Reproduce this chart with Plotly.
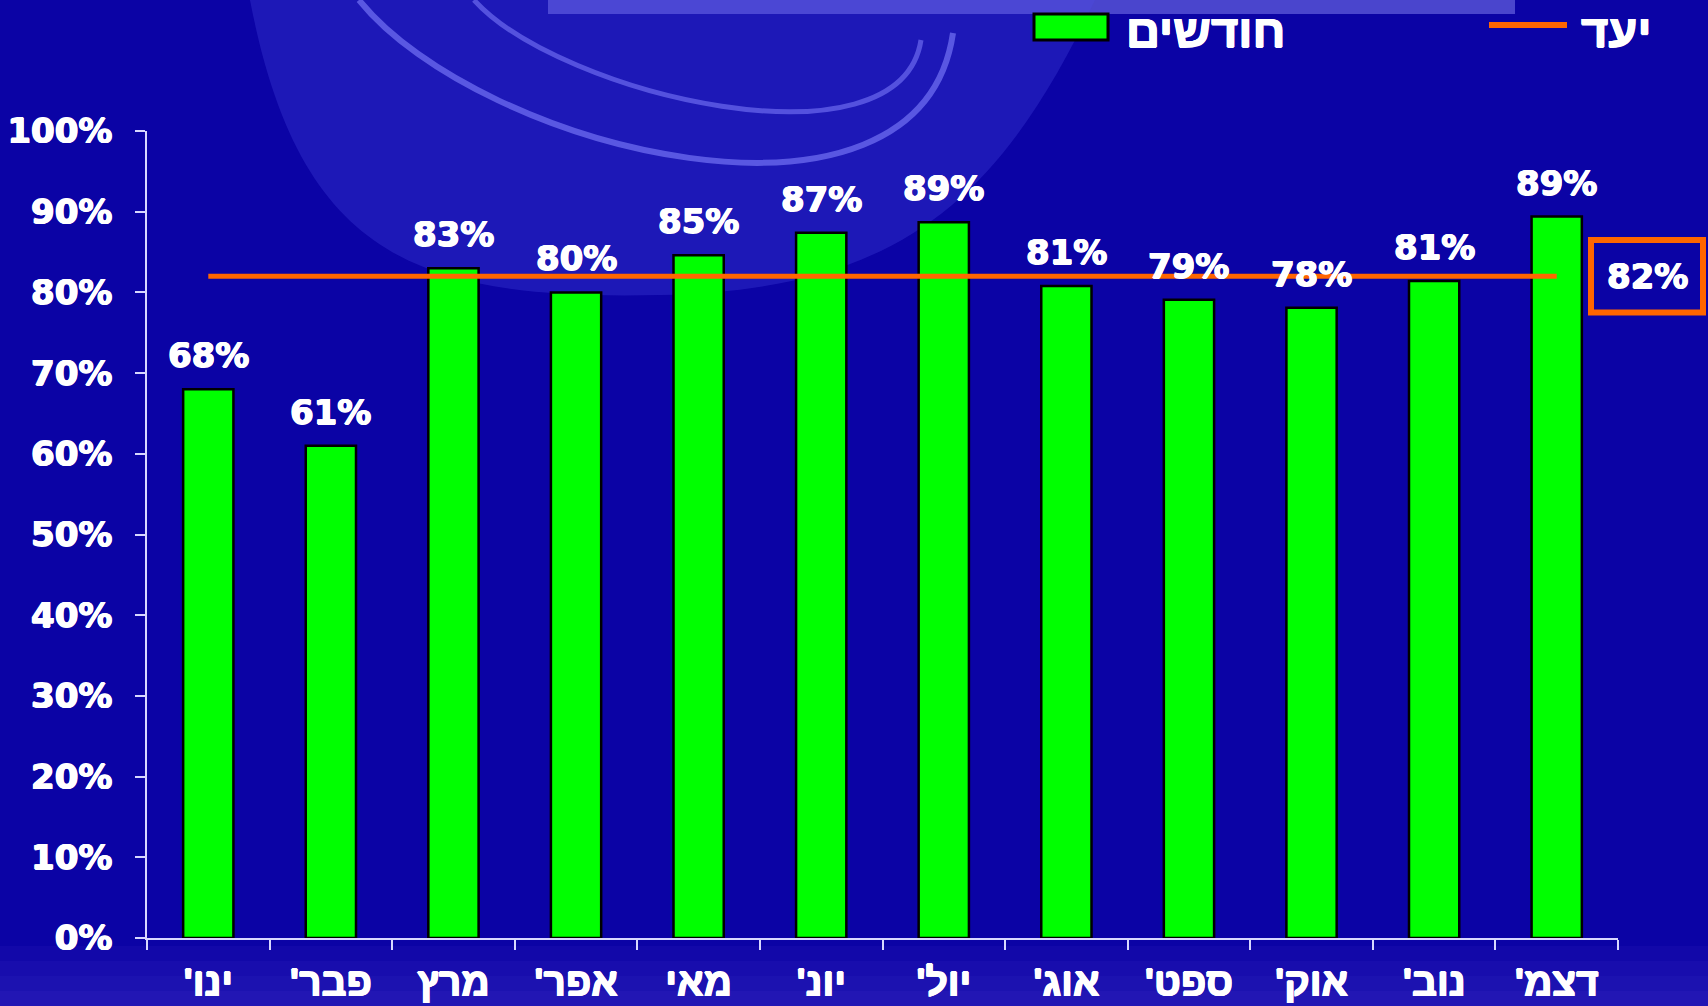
import plotly.graph_objects as go

months = ["ינו'", "פבר'", "מרץ", "אפר'", "מאי", "יונ'", "יול'", "אוג'", "ספט'", "אוק'", "נוב'", "דצמ'"]
values = [0.68, 0.61, 0.83, 0.80, 0.846, 0.874, 0.887, 0.808, 0.791, 0.781, 0.814, 0.894]
target = 0.82
bar_name = "חודשים"
line_name = "יעד"
y_ticks = [0, 0.1, 0.2, 0.3, 0.4, 0.5, 0.6, 0.7, 0.8, 0.9, 1.0]

W, H = 1708, 1006
ML, MR, MT, MB = 147, 90, 131, 68
PW, PH = W - ML - MR, H - MT - MB

def px(x):
    return (x - ML) / PW

def py(y):
    return (H - MB - y) / PH

NUM_FONT = "DejaVu Sans"
HEB_FONT = "Liberation Sans, DejaVu Sans, sans-serif"
THICK = "0.7px 0 0 white, -0.7px 0 0 white, 0 0.5px 0 white, 0 -0.5px 0 white"
RLM = "\u200f"
cats = [RLM + m + RLM for m in months]

num_font = dict(family=NUM_FONT, size=34, color="white", weight="bold", shadow=THICK)
heb_font = dict(family=HEB_FONT, size=39, color="white", weight="bold", shadow=THICK)

fig = go.Figure()
fig.add_trace(go.Bar(
    x=cats, y=values, width=0.41,
    marker=dict(color="#00ff00", line=dict(color="#000000", width=2.5)),
    showlegend=False, hoverinfo="skip",
))
fig.add_trace(go.Scatter(
    x=cats, y=[target] * len(cats), mode="lines",
    line=dict(color="#ff6600", width=5),
    showlegend=False, hoverinfo="skip",
))

annotations = []
for c, v in zip(cats, values):
    annotations.append(dict(
        x=c, y=v, xref="x", yref="y", text=f"{round(v * 100)}%",
        showarrow=False, yanchor="bottom", yshift=12, font=num_font,
    ))
annotations.append(dict(
    x=px(1647), y=target, xref="paper", yref="y", text=f"{round(target * 100)}%",
    showarrow=False, xanchor="center", yanchor="middle", font=num_font,
))
# legend texts
annotations.append(dict(
    x=px(1124), y=py(30), xref="paper", yref="paper", text=bar_name,
    showarrow=False, xanchor="left", yanchor="middle",
    font=dict(heb_font, size=47),
))
annotations.append(dict(
    x=px(1579), y=py(30), xref="paper", yref="paper", text=line_name,
    showarrow=False, xanchor="left", yanchor="middle",
    font=dict(heb_font, size=47),
))

shapes = []
# background decorations
shapes.append(dict(type="rect", xref="paper", yref="paper", layer="below",
                   x0=px(548), x1=px(1515), y0=py(0), y1=py(14),
                   fillcolor="rgba(150,150,255,0.45)", line=dict(width=0)))
shapes.append(dict(type="path", xref="paper", yref="paper", layer="below",
                   path=(f"M {px(250)},{py(0)} C {px(300)},{py(260)} {px(420)},{py(300)} {px(660)},{py(295)} "
                         f"C {px(900)},{py(290)} {px(1000)},{py(200)} {px(1095)},{py(0)} Z"),
                   fillcolor="rgba(80,80,230,0.28)", line=dict(width=0)))
shapes.append(dict(type="path", xref="paper", yref="paper", layer="below",
                   path=f"M {px(359)},{py(0)} C {px(480)},{py(150)} {px(920)},{py(260)} {px(953)},{py(33)}",
                   line=dict(color="rgba(130,130,255,0.6)", width=6)))
shapes.append(dict(type="path", xref="paper", yref="paper", layer="below",
                   path=f"M {px(474)},{py(0)} C {px(560)},{py(95)} {px(900)},{py(175)} {px(921)},{py(40)}",
                   line=dict(color="rgba(130,130,255,0.55)", width=5)))
for i, a in enumerate([0.05, 0.09, 0.13, 0.17]):
    shapes.append(dict(type="rect", xref="paper", yref="paper", layer="below",
                       x0=px(0), x1=px(W), y0=py(H - 60 + i * 15), y1=py(H - 60 + (i + 1) * 15),
                       fillcolor=f"rgba(150,120,255,{a})", line=dict(width=0)))
# target box
shapes.append(dict(type="rect", xref="paper", yref="y",
                   x0=px(1591), x1=px(1703), y0=target - 0.045, y1=target + 0.045,
                   line=dict(color="#ff6600", width=6), fillcolor="rgba(0,0,0,0)"))
# legend symbols
shapes.append(dict(type="rect", xref="paper", yref="paper",
                   x0=px(1034), x1=px(1108), y0=py(40), y1=py(14),
                   fillcolor="#00ff00", line=dict(color="black", width=3)))
shapes.append(dict(type="line", xref="paper", yref="paper",
                   x0=px(1489), x1=px(1567), y0=py(25), y1=py(25),
                   line=dict(color="#ff6600", width=6)))

fig.update_layout(
    width=W, height=H,
    margin=dict(l=ML, r=MR, t=MT, b=MB),
    paper_bgcolor="#0b03a5", plot_bgcolor="rgba(0,0,0,0)",
    showlegend=False,
    annotations=annotations, shapes=shapes,
    xaxis=dict(
        type="category", showgrid=False, zeroline=False, automargin=False,
        showline=True, linecolor="#d8d8ff", linewidth=1.5,
        ticks="outside", tickson="boundaries", ticklen=10, tickcolor="#d8d8ff", tickwidth=1.5,
        tickfont=heb_font, ticklabelstandoff=9, fixedrange=True,
    ),
    yaxis=dict(
        range=[0, 1], tickvals=y_ticks, tickformat=".0%", showgrid=False, zeroline=False,
        automargin=False,
        showline=True, linecolor="#d8d8ff", linewidth=1.5,
        ticks="outside", ticklen=10, tickcolor="#d8d8ff", tickwidth=1.5,
        tickfont=num_font, ticklabelstandoff=16, fixedrange=True,
    ),
)

fig.write_html(
    "out.html",
    config={"displayModeBar": False},
    post_script="document.body.style.margin='0';document.body.style.overflow='hidden';",
)
